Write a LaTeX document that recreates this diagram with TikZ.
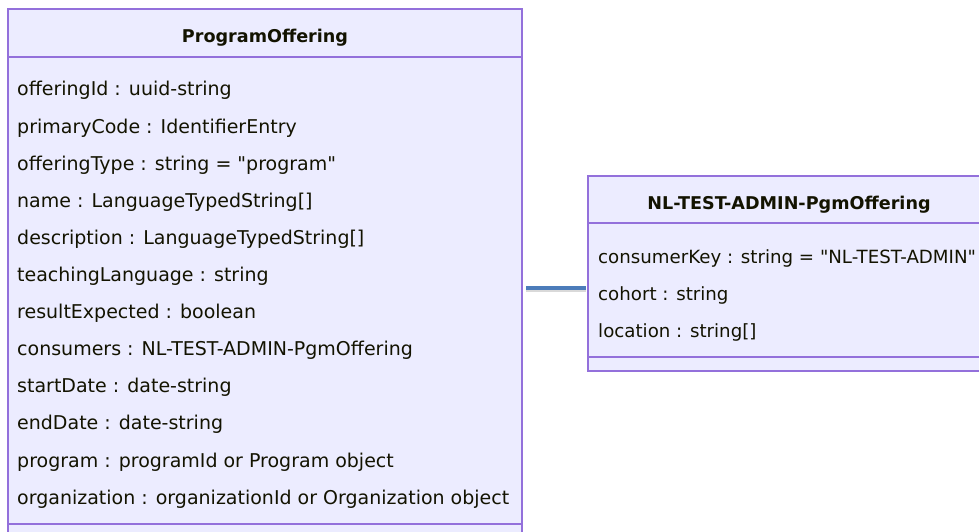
\documentclass[tikz,border=0pt]{standalone}
\usepackage{fontspec}
\setmainfont{DejaVu Sans}[Ligatures=TeXOff]
\definecolor{boxfill}{HTML}{ECECFF}
\definecolor{boxline}{HTML}{9370DB}
\definecolor{txt}{HTML}{131300}
\definecolor{rel}{RGB}{76,124,186}
\begin{document}
\begin{tikzpicture}[x=1pt,y=-1pt,
  box/.style={fill=boxfill,draw=boxline,line width=1.2pt},
  sep/.style={draw=boxline,line width=1.2pt},
  attr/.style={anchor=base west,inner sep=0pt,text=txt,font=\fontsize{19}{21}\selectfont},
  attrs/.style={attr,font=\fontsize{18.2}{20}\selectfont},
  title/.style={anchor=base,inner sep=0pt,text=txt,font=\fontsize{17.6}{19}\selectfont\bfseries}]
\useasboundingbox (0,0) rectangle (979,532);
\clip (0,0) rectangle (979,532);
% left class
\path[box] (8,9) rectangle (522,540);
\draw[sep] (8,57) -- (522,57);
\draw[sep] (8,524) -- (522,524);
\node[title] (t1) at (265,43) {ProgramOffering};
\foreach \i/\t in {0/{offeringId : uuid-string},
  1/{primaryCode : IdentifierEntry},
  2/{offeringType : string = "program"},
  3/{name : LanguageTypedString[]},
  4/{description : LanguageTypedString[]},
  5/{teachingLanguage : string},
  6/{resultExpected : boolean},
  7/{consumers : NL-TEST-ADMIN-PgmOffering},
  8/{startDate : date-string},
  9/{endDate : date-string},
  10/{program : programId or Program object},
  11/{organization : organizationId or Organization object}}
  \node[attr] (a\i) at (17,96+37.1*\i) {\t};
% right class
\path[box] (588,176) rectangle (992,371);
\draw[sep] (588,223) -- (992,223);
\draw[sep] (588,357) -- (992,357);
\node[title] (t2) at (789,209) {NL-TEST-ADMIN-PgmOffering};
\node[attrs] (b0) at (598,263) {consumerKey : string = "NL-TEST-ADMIN"};
\node[attrs] (b1) at (598,300) {cohort : string};
\node[attrs] (b2) at (598,337) {location : string[]};
% relation
\coordinate (p1) at (526,288);
\coordinate (p2) at (586,288);
\draw[black!15,line width=3.5pt] ([yshift=-2.5pt]p1) -- ([yshift=-2.5pt]p2);
\draw[rel,line width=4pt] (p1) -- (p2);
\end{tikzpicture}
\end{document}
